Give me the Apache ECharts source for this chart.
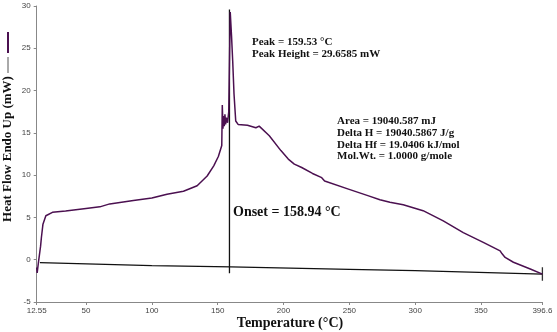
<!DOCTYPE html>
<html>
<head>
<meta charset="utf-8">
<script src="https://cdn.jsdelivr.net/npm/echarts@6/dist/echarts.min.js"></script>
<style>
html, body { margin: 0; padding: 0; background: #fff; }
#chart { width: 557px; height: 332px; }
</style>
</head>
<body>
<div id="chart"></div>
<script>
// DSC curve (temperature in °C, heat flow in mW)
const curveTemp = [12.55, 12.9, 13.8, 15.5, 16.1, 17.3, 19.5, 24.5, 34.5, 50, 60.5, 68, 86, 100, 111.5, 124,
	134.4, 142, 147, 150.5, 153.1, 153.5, 154.0, 154.5, 155.0, 155.5, 156.0, 156.6, 157.5, 158.4, 159.53,
	160.5, 161.4, 162.4, 163.7, 165.5, 172.6, 179, 181.5, 189.2, 198, 203.6, 208.2, 213.8, 222, 229, 231.2,
	232, 249.3, 264.6, 273.2, 280.8, 290.9, 306, 321.3, 336.5, 351.7, 364.5, 366, 368.3, 374.6, 387.4, 396.6];
const curveHeat = [-0.9, -1.55, -0.4, 1.6, 2.6, 4.2, 5.2, 5.6, 5.75, 6.05, 6.25, 6.6, 7.0, 7.3, 7.75, 8.1,
	8.75, 9.9, 11.1, 12.2, 13.5, 18.3, 15.5, 17.0, 15.8, 17.2, 16.0, 16.8, 16.2, 17.5, 29.3,
	26.5, 23.5, 19.6, 16.4, 16.0, 15.9, 15.6, 15.8, 14.65, 12.9, 11.9, 11.3, 10.9, 10.2, 9.7, 9.3,
	9.45, 8.35, 7.55, 7.1, 6.8, 6.5, 5.8, 4.6, 3.2, 2.05, 1.05, 0.7, 0.27, -0.3, -1.1, -1.7];

// baseline
const baseTemp = [15, 100, 160, 250, 300, 396.6];
const baseHeat = [-0.35, -0.7, -0.85, -1.15, -1.3, -1.7];

// onset marker and end marker
const onsetTemp = 158.94;
const onsetRange = [-1.6, 29.6];
const endTemp = 396.6;
const endRange = [-0.9, -2.5];

const xTicks = [12.55, 50, 100, 150, 200, 250, 300, 350, 396.6];
const yMin = -5, yMax = 30, yStep = 5;

const peakLines = ['Peak = 159.53 °C', 'Peak Height = 29.6585 mW'];
const areaLines = ['Area = 19040.587 mJ', 'Delta H = 19040.5867 J/g', 'Delta Hf = 19.0406 kJ/mol', 'Mol.Wt. = 1.0000 g/mole'];
const onsetLabel = 'Onset = 158.94 °C';

const purple = '#4b1050';
const pairs = (xs, ys) => xs.map((x, i) => [x, ys[i]]);

document.addEventListener('DOMContentLoaded', function() {
	const chart = echarts.init(document.getElementById('chart'));
	const serif = '"Liberation Serif", "DejaVu Serif", serif';
	const option = {
		animation: false,
		grid: { left: 36.7, right: 14.6, top: 6, bottom: 30 },
		xAxis: {
			type: 'value',
			min: 12.55,
			max: 396.6,
			axisLine: { onZero: false, lineStyle: { color: '#888', width: 1 } },
			axisTick: { show: true, length: 3, lineStyle: { color: '#888' }, customValues: xTicks },
			axisLabel: { color: '#444', fontSize: 8, fontFamily: 'Liberation Sans, Arial', margin: 5, customValues: xTicks, showMinLabel: true, showMaxLabel: true },
			splitLine: { show: false }
		},
		yAxis: {
			type: 'value',
			min: yMin,
			max: yMax,
			interval: yStep,
			axisLine: { show: true, onZero: false, lineStyle: { color: '#888', width: 1 } },
			axisTick: { show: true, length: 3, lineStyle: { color: '#888' } },
			axisLabel: { color: '#444', fontSize: 8, fontFamily: 'Liberation Sans, Arial', margin: 6 },
			splitLine: { show: false }
		},
		series: [
			{
				type: 'line', data: pairs(baseTemp, baseHeat), symbol: 'none',
				lineStyle: { color: '#111', width: 1.3 }, z: 2
			},
			{
				type: 'line', data: [[onsetTemp, onsetRange[0]], [onsetTemp, onsetRange[1]]], symbol: 'none',
				lineStyle: { color: '#111', width: 1.3 }, z: 2
			},
			{
				type: 'line', data: [[endTemp, endRange[0]], [endTemp, endRange[1]]], symbol: 'none',
				lineStyle: { color: '#333', width: 1.3 }, z: 2
			},
			{
				type: 'line', data: pairs(curveTemp, curveHeat), symbol: 'none',
				lineStyle: { color: purple, width: 1.5 }, z: 3
			}
		],
		graphic: [
			{
				type: 'text', x: 8, y: 149, rotation: Math.PI / 2,
				style: { text: 'Heat Flow Endo Up (mW)', font: 'bold 13px ' + serif, fill: '#111', align: 'center', verticalAlign: 'middle' }
			},
			{ type: 'line', shape: { x1: 8, y1: 57, x2: 8, y2: 73 }, style: { stroke: '#555', lineWidth: 1 } },
			{ type: 'line', shape: { x1: 8, y1: 32, x2: 8, y2: 53 }, style: { stroke: purple, lineWidth: 2 } },
			{
				type: 'text', x: 290, y: 323,
				style: { text: 'Temperature (°C)', font: 'bold 14px ' + serif, fill: '#111', align: 'center', verticalAlign: 'middle' }
			},
			{
				type: 'text', x: 252, y: 48,
				style: { text: peakLines.join('\n'), font: 'bold 11px ' + serif, lineHeight: 12.5, fill: '#111', align: 'left', verticalAlign: 'middle' }
			},
			{
				type: 'text', x: 337, y: 139,
				style: { text: areaLines.join('\n'), font: 'bold 11px ' + serif, lineHeight: 11.7, fill: '#111', align: 'left', verticalAlign: 'middle' }
			},
			{
				type: 'text', x: 233, y: 212,
				style: { text: onsetLabel, font: 'bold 14px ' + serif, fill: '#111', align: 'left', verticalAlign: 'middle' }
			}
		]
	};
	chart.setOption(option);
	window.addEventListener('resize', function() {
		chart.resize();
	});
});
</script>
</body>
</html>
